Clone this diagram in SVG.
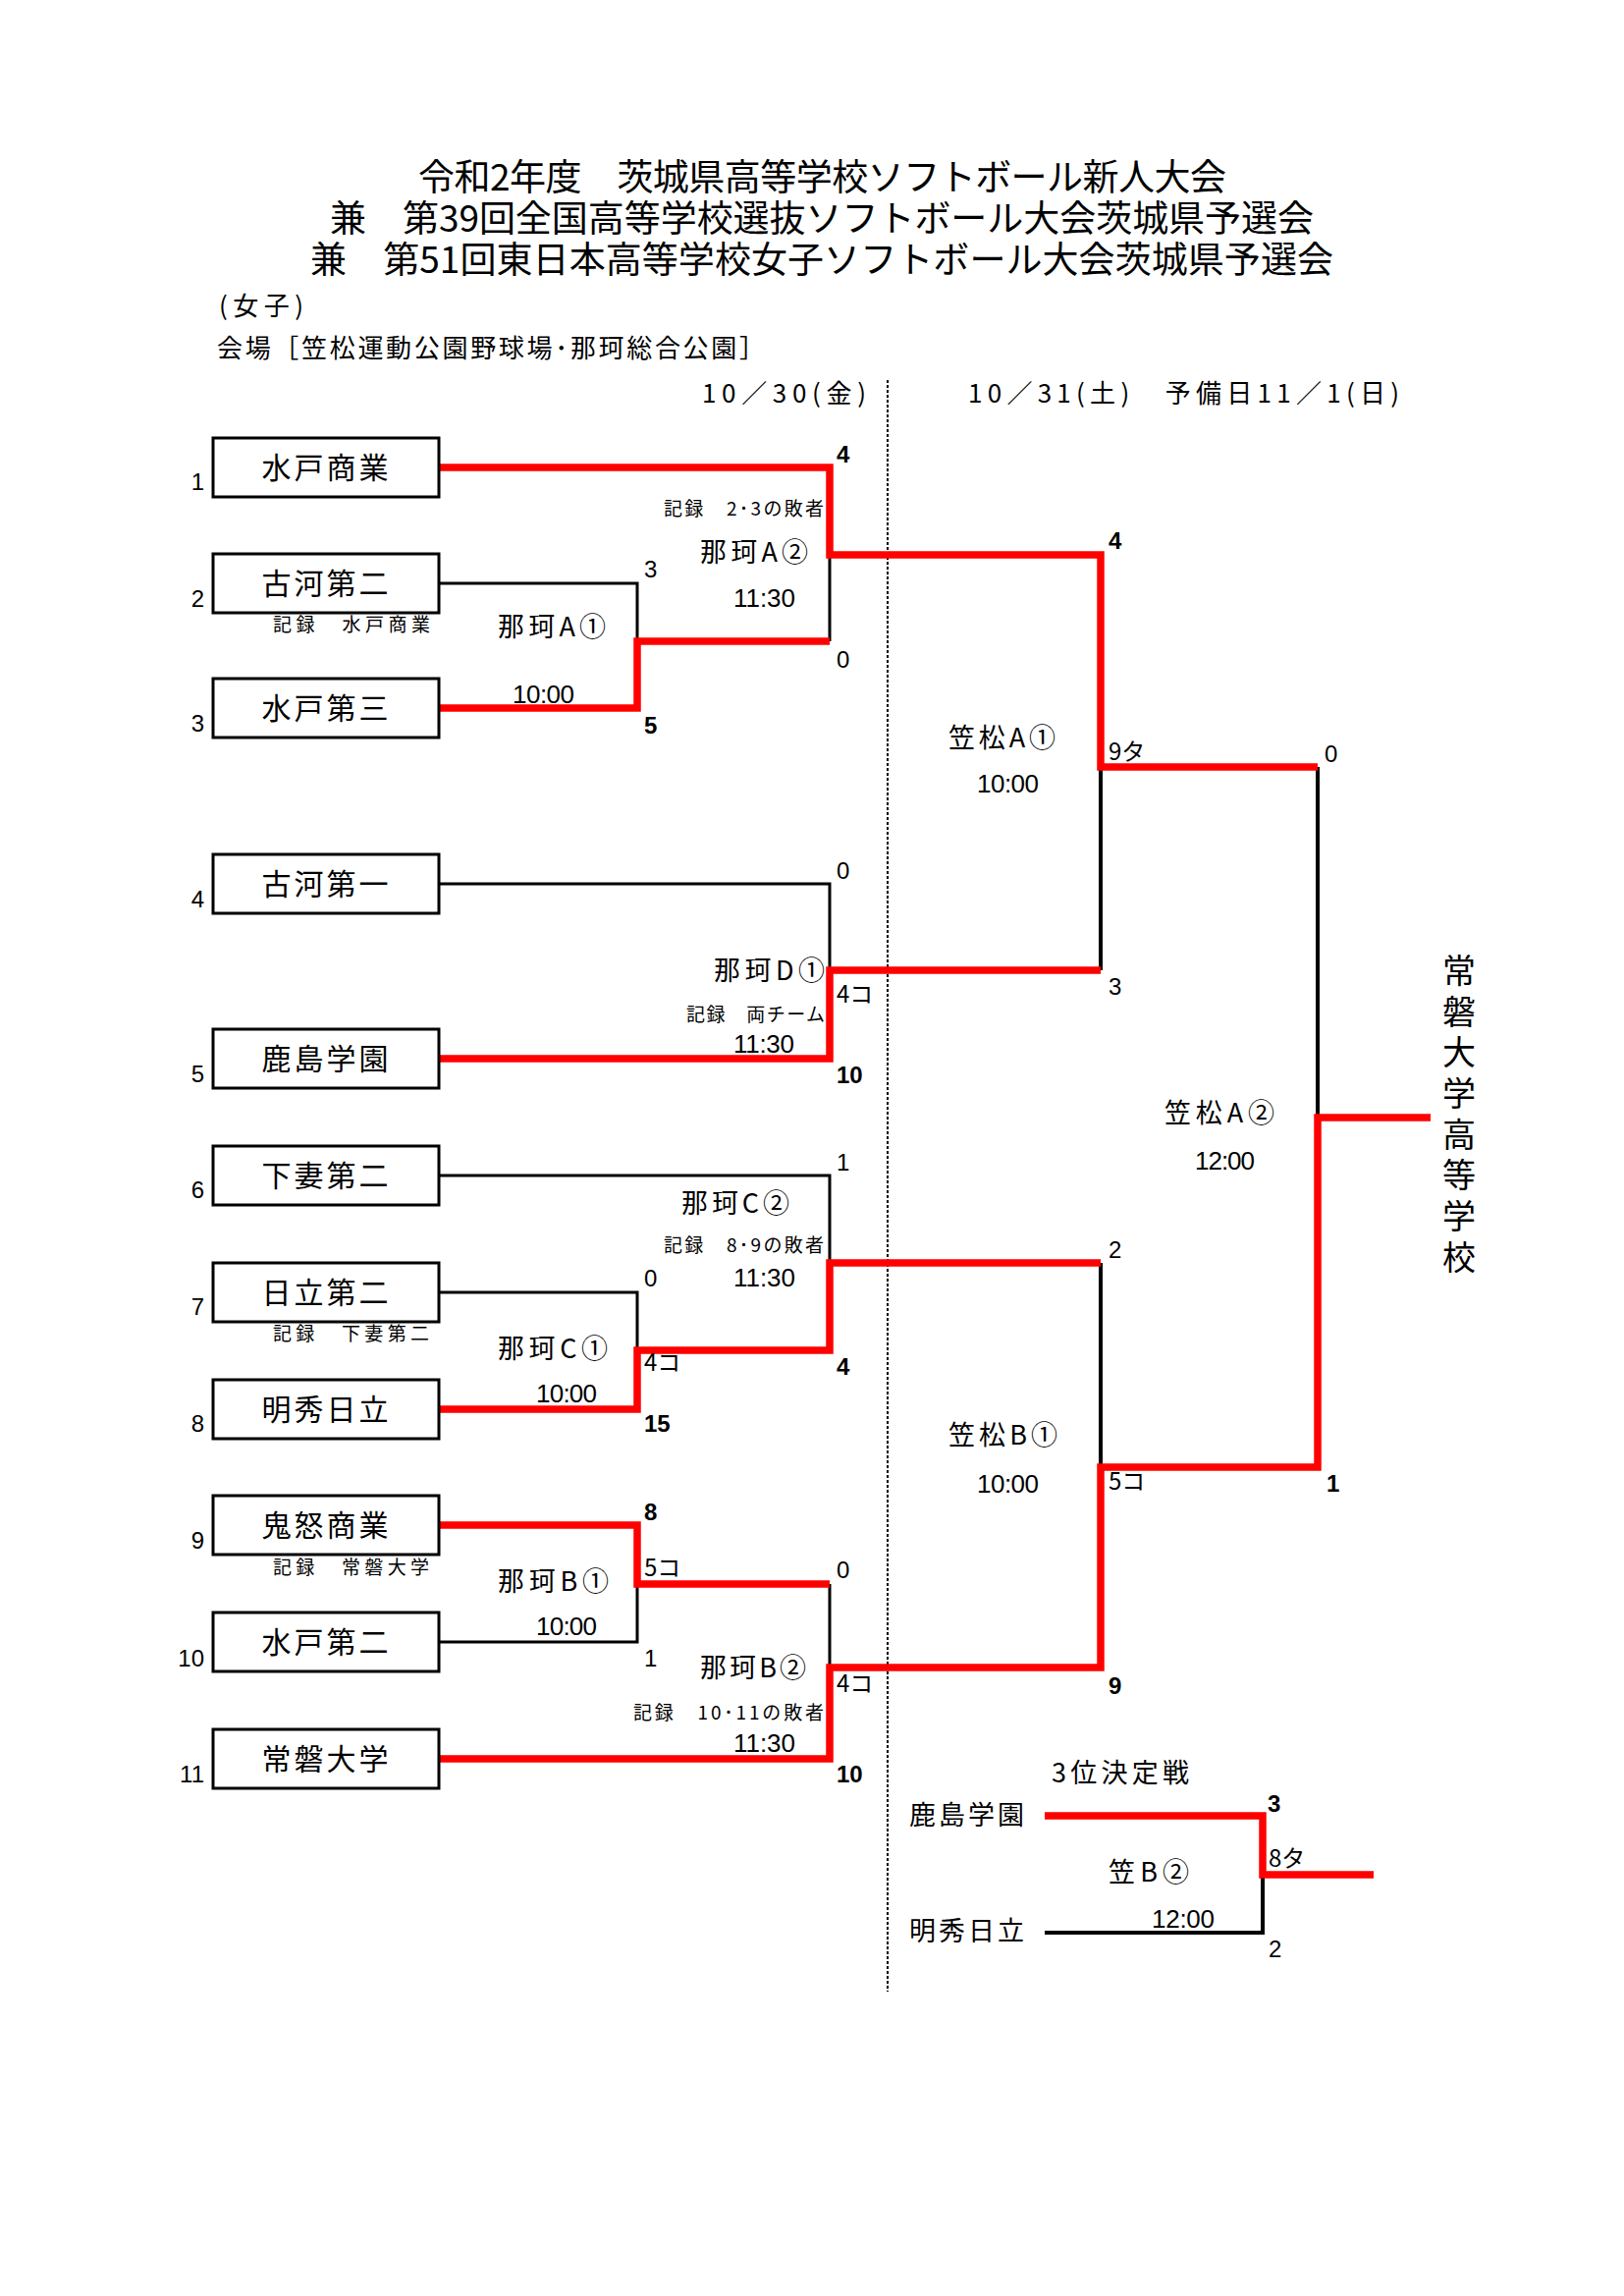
<svg xmlns="http://www.w3.org/2000/svg" width="1654" height="2338" viewBox="0 0 1654 2338">
<style>
text{font-family:"Noto Sans CJK JP","Noto Sans CJK SC",sans-serif;fill:#000}
.t{font-size:37px}
.h{font-size:26px}
.box{fill:#fff;stroke:#000;stroke-width:3}
.bn{font-size:30px;text-anchor:middle}
.num{font-family:"Liberation Sans",Arial,sans-serif;font-size:24px;text-anchor:end}
.rec{font-size:19px}
.m{font-size:27px}
.tm{font-family:"Liberation Sans",Arial,sans-serif;font-size:26px}
.sc{font-family:"Liberation Sans",Arial,sans-serif;font-size:24px}
.sk{font-size:24px}
.b{font-weight:bold}
.red{fill:none;stroke:#f00;stroke-width:7.5;stroke-linejoin:miter}
.blk{fill:none;stroke:#000;stroke-width:3}
.blk2{fill:none;stroke:#000;stroke-width:4}
.dash{fill:none;stroke:#000;stroke-width:2;stroke-dasharray:3 2}
.v{font-size:34px;writing-mode:vertical-rl;letter-spacing:7.7px}
</style>

<g id="header">
<text class="t"><tspan x="426" y="194" textLength="823">令和2年度　茨城県高等学校ソフトボール新人大会</tspan><tspan x="336" y="236" textLength="1002">兼　第39回全国高等学校選抜ソフトボール大会茨城県予選会</tspan><tspan x="316" y="278" textLength="1042">兼　第51回東日本高等学校女子ソフトボール大会茨城県予選会</tspan></text>
<text class="h" x="223" y="321" textLength="86">(女子)</text>
<text class="h" x="221" y="364" textLength="558">会場［笠松運動公園野球場･那珂総合公園］</text>
<text class="h" x="715" y="410" textLength="167">10／30(金)</text>
<text class="h" x="986" y="410" textLength="439">10／31(土)　予備日11／1(日)</text>
</g>

<g id="connectors">
<line class="dash" x1="904" y1="387" x2="904" y2="2028"/>
<path class="blk" d="M447,594 H649 V653"/>
<path class="blk" d="M845,565 V653"/>
<path class="blk" d="M447,900 H845 V988"/>
<path class="blk" d="M447,1197 H845 V1286"/>
<path class="blk" d="M447,1316 H649 V1375"/>
<path class="blk" d="M447,1672 H649 V1613"/>
<path class="blk" d="M845,1613 V1698"/>
<path class="blk2" d="M1121,781 V988"/>
<path class="blk2" d="M1121,1286 V1494"/>
<path class="blk2" d="M1342,781 V1138"/>
<path class="blk2" d="M1064,1968 H1286 V1909"/>
<path class="red" d="M447,476 H845 V565 H1121 V781 H1342"/>
<path class="red" d="M447,721 H649 V653 H845"/>
<path class="red" d="M447,1078 H845 V988 H1121"/>
<path class="red" d="M447,1435 H649 V1375 H845 V1286 H1121"/>
<path class="red" d="M447,1553 H649 V1613 H845"/>
<path class="red" d="M447,1791 H845 V1698 H1121 V1494 H1342 V1138 H1457"/>
<path class="red" d="M1064,1849 H1286 V1909 H1399"/>
</g>

<g id="team1"><rect class="box" x="217" y="446" width="230" height="60"/><text class="bn" x="331" y="487" textLength="129">水戸商業</text><text class="num" x="208" y="499">1</text></g>
<g id="team2"><rect class="box" x="217" y="564" width="230" height="60"/><text class="bn" x="331" y="605" textLength="129">古河第二</text><text class="num" x="208" y="618">2</text></g>
<g id="team3"><rect class="box" x="217" y="691" width="230" height="60"/><text class="bn" x="331" y="732" textLength="129">水戸第三</text><text class="num" x="208" y="745">3</text></g>
<g id="team4"><rect class="box" x="217" y="870" width="230" height="60"/><text class="bn" x="331" y="911" textLength="129">古河第一</text><text class="num" x="208" y="924">4</text></g>
<g id="team5"><rect class="box" x="217" y="1048" width="230" height="60"/><text class="bn" x="331" y="1089" textLength="129">鹿島学園</text><text class="num" x="208" y="1102">5</text></g>
<g id="team6"><rect class="box" x="217" y="1167" width="230" height="60"/><text class="bn" x="331" y="1208" textLength="129">下妻第二</text><text class="num" x="208" y="1220">6</text></g>
<g id="team7"><rect class="box" x="217" y="1286" width="230" height="60"/><text class="bn" x="331" y="1327" textLength="129">日立第二</text><text class="num" x="208" y="1339">7</text></g>
<g id="team8"><rect class="box" x="217" y="1405" width="230" height="60"/><text class="bn" x="331" y="1446" textLength="129">明秀日立</text><text class="num" x="208" y="1458">8</text></g>
<g id="team9"><rect class="box" x="217" y="1523" width="230" height="60"/><text class="bn" x="331" y="1564" textLength="129">鬼怒商業</text><text class="num" x="208" y="1577">9</text></g>
<g id="team10"><rect class="box" x="217" y="1642" width="230" height="60"/><text class="bn" x="331" y="1683" textLength="129">水戸第二</text><text class="num" x="208" y="1697">10</text></g>
<g id="team11"><rect class="box" x="217" y="1761" width="230" height="60"/><text class="bn" x="331" y="1802" textLength="129">常磐大学</text><text class="num" x="208" y="1815">11</text></g>

<g id="match-nakaA1">
<text class="m" x="507" y="648" textLength="110">那珂A①</text>
<text class="tm" x="522" y="716" textLength="63">10:00</text>
<text class="rec" x="278" y="643" textLength="160">記録　水戸商業</text>
<text class="sc" x="656" y="588">3</text>
<text class="sc b" x="656" y="747">5</text>
</g>
<g id="match-nakaA2">
<text class="rec" x="676" y="525" textLength="163">記録　2･3の敗者</text>
<text class="m" x="713" y="572" textLength="110">那珂A②</text>
<text class="tm" x="747" y="618" textLength="63">11:30</text>
<text class="sc b" x="852" y="471">4</text>
<text class="sc" x="852" y="680">0</text>
</g>
<g id="match-nakaD1">
<text class="m" x="727" y="998" textLength="113">那珂D①</text>
<text class="rec" x="699" y="1040" textLength="141">記録　両チーム</text>
<text class="tm" x="747" y="1072" textLength="62">11:30</text>
<text class="sc" x="852" y="895">0</text>
<text class="sk" x="852" y="1021">4コ</text>
<text class="sc b" x="852" y="1103">10</text>
</g>
<g id="match-nakaC2">
<text class="m" x="694" y="1235" textLength="110">那珂C②</text>
<text class="rec" x="676" y="1275" textLength="163">記録　8･9の敗者</text>
<text class="tm" x="747" y="1310" textLength="63">11:30</text>
<text class="sc" x="852" y="1192">1</text>
<text class="sc b" x="852" y="1400">4</text>
</g>
<g id="match-nakaC1">
<text class="rec" x="278" y="1365" textLength="159">記録　下妻第二</text>
<text class="m" x="507" y="1383" textLength="112">那珂C①</text>
<text class="tm" x="546" y="1428" textLength="62">10:00</text>
<text class="sc" x="656" y="1310">0</text>
<text class="sk" x="656" y="1396">4コ</text>
<text class="sc b" x="656" y="1458">15</text>
</g>
<g id="match-nakaB1">
<text class="rec" x="278" y="1603" textLength="159">記録　常磐大学</text>
<text class="m" x="507" y="1620" textLength="113">那珂B①</text>
<text class="tm" x="546" y="1665" textLength="62">10:00</text>
<text class="sc b" x="656" y="1548">8</text>
<text class="sk" x="656" y="1605">5コ</text>
<text class="sc" x="656" y="1697">1</text>
</g>
<g id="match-nakaB2">
<text class="m" x="713" y="1708" textLength="108">那珂B②</text>
<text class="rec" x="645" y="1751" textLength="194">記録　10･11の敗者</text>
<text class="tm" x="747" y="1784" textLength="63">11:30</text>
<text class="sc" x="852" y="1607">0</text>
<text class="sk" x="852" y="1723">4コ</text>
<text class="sc b" x="852" y="1815">10</text>
</g>

<g id="match-kasamatsuA1">
<text class="m" x="966" y="761" textLength="109">笠松A①</text>
<text class="tm" x="995" y="807" textLength="63">10:00</text>
<text class="sc b" x="1129" y="559">4</text>
<text class="sk" x="1129" y="774">9タ</text>
<text class="sc" x="1129" y="1013">3</text>
</g>
<g id="match-kasamatsuA2">
<text class="m" x="1186" y="1143" textLength="112">笠松A②</text>
<text class="tm" x="1217" y="1191" textLength="61">12:00</text>
<text class="sc" x="1349" y="776">0</text>
<text class="sc b" x="1351" y="1519">1</text>
</g>
<g id="match-kasamatsuB1">
<text class="m" x="966" y="1471" textLength="111">笠松B①</text>
<text class="tm" x="995" y="1520" textLength="63">10:00</text>
<text class="sc" x="1129" y="1281">2</text>
<text class="sk" x="1129" y="1517">5コ</text>
<text class="sc b" x="1129" y="1725">9</text>
</g>

<g id="champion">
<text class="v" x="1486" y="971">常磐大学高等学校</text>
</g>

<g id="third-place">
<text class="m" x="1071" y="1815" textLength="140">3位決定戦</text>
<text class="m" x="926" y="1858" textLength="117">鹿島学園</text>
<text class="m" x="926" y="1976" textLength="117">明秀日立</text>
<text class="m" x="1129" y="1916" textLength="82">笠B②</text>
<text class="tm" x="1173" y="1963" textLength="64">12:00</text>
<text class="sc b" x="1291" y="1845">3</text>
<text class="sk" x="1292" y="1901">8タ</text>
<text class="sc" x="1292" y="1993">2</text>
</g>
</svg>
